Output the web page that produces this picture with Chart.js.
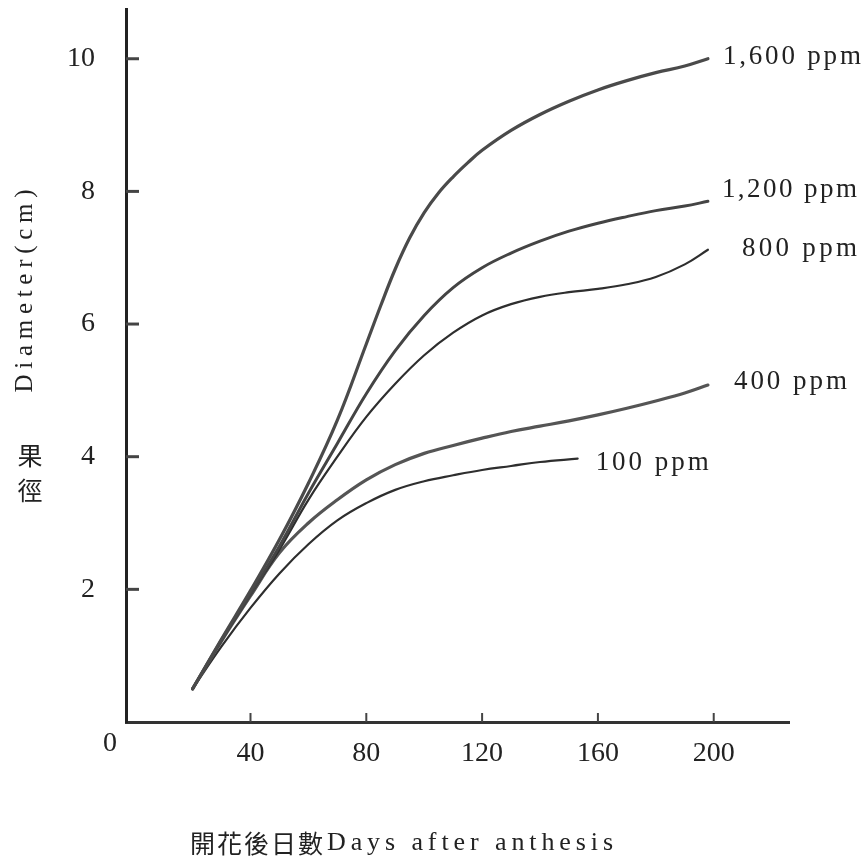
<!DOCTYPE html>
<html><head><meta charset="utf-8">
<script src="https://cdn.jsdelivr.net/npm/chart.js@4.4.0/dist/chart.umd.min.js"></script>
<style>html,body{margin:0;padding:0;background:#fff;overflow:hidden}canvas{display:block}</style>
</head><body>
<canvas id="c" width="864" height="857"></canvas>
<script>
// ---- data ----
const days1600 = [20,30,40,50,60,70,80,85,90,95,100,105,110,115,120,130,140,150,160,170,180,190,198];
const ppm1600  = [0.5,1.25,1.98,2.75,3.6,4.55,5.7,6.28,6.83,7.3,7.68,7.98,8.22,8.43,8.62,8.92,9.16,9.36,9.53,9.67,9.79,9.89,10.0];
const days = [20,30,40,50,60,70,80,90,100,110,120,130,140,150,160,170,180,190,198];
const ppm1200 = [0.5,1.24,1.93,2.65,3.45,4.2,4.95,5.6,6.13,6.55,6.85,7.07,7.25,7.4,7.52,7.62,7.71,7.78,7.85];
const ppm800  = [0.5,1.23,1.92,2.6,3.35,4.0,4.6,5.1,5.53,5.87,6.13,6.3,6.41,6.48,6.53,6.6,6.71,6.9,7.12];
const ppm400  = [0.5,1.22,1.9,2.55,3.0,3.35,3.65,3.88,4.05,4.17,4.28,4.38,4.46,4.54,4.63,4.73,4.84,4.96,5.08];
const days100 = [20,30,40,50,60,70,80,90,100,110,120,130,140,153];
const ppm100  = [0.5,1.14,1.72,2.24,2.68,3.04,3.3,3.5,3.63,3.72,3.8,3.86,3.92,3.97];
const seriesLabels = ['1,600 ppm','1,200 ppm','800 ppm','400 ppm','100 ppm'];
const xTicks = [40,80,120,160,200];
const yTicks = [2,4,6,8,10];
const yTitle = 'Diameter(cm)';
const yTitleZh = ['果','徑'];
const xTitleZh = '開花後日數';
const xTitleEn = 'Days after anthesis';

const pairs = (xs, ys) => xs.map((x, i) => ({x: x, y: ys[i]}));

const SERIF = '"Liberation Serif", "DejaVu Serif", serif';
const CJK = '"Noto Sans CJK TC", "Noto Sans CJK SC", sans-serif';

function spaced(ctx, text, x, y, width, align) {
  ctx.letterSpacing = '0px';
  const w0 = ctx.measureText(text).width;
  const n = Array.from(text).length;
  const sp = n > 1 ? (width - w0) / (n - 1) : 0;
  ctx.letterSpacing = sp + 'px';
  ctx.textAlign = 'left';
  const start = align === 'center' ? x - width / 2 : x;
  ctx.fillText(text, start, y);
  ctx.letterSpacing = '0px';
}

const labelOffsets = [[15,-2],[14,-11],[34,-1],[26,-3],[18,4]];
const labelWidths = [138,135,115,113,113];

const decor = {
  id: 'decor',
  afterDraw(chart) {
    const ctx = chart.ctx, xs = chart.scales.x, ys = chart.scales.y;
    ctx.save();
    // inward tick marks
    ctx.strokeStyle = '#444';
    ctx.lineWidth = 3;
    ys.ticks.forEach(t => {
      const py = ys.getPixelForValue(t.value);
      ctx.beginPath(); ctx.moveTo(xs.left, py); ctx.lineTo(xs.left + 13, py); ctx.stroke();
    });
    ctx.lineWidth = 2;
    xs.ticks.forEach(t => {
      const px = xs.getPixelForValue(t.value);
      ctx.beginPath(); ctx.moveTo(px, ys.bottom); ctx.lineTo(px, ys.bottom - 9); ctx.stroke();
    });
    // origin label
    ctx.fillStyle = '#222';
    ctx.font = '28px ' + SERIF;
    ctx.textAlign = 'center'; ctx.textBaseline = 'middle';
    ctx.fillText('0', xs.left - 16, ys.bottom + 22);
    // series labels at the end of each curve
    ctx.font = '27px ' + SERIF;
    chart.data.datasets.forEach((ds, i) => {
      const meta = chart.getDatasetMeta(i);
      const last = meta.data[meta.data.length - 1];
      spaced(ctx, seriesLabels[i], last.x + labelOffsets[i][0], last.y + labelOffsets[i][1], labelWidths[i], 'left');
    });
    // y title
    ctx.save();
    ctx.translate(25, 291);
    ctx.rotate(-Math.PI / 2);
    ctx.font = '25px ' + SERIF;
    ctx.textBaseline = 'middle';
    spaced(ctx, yTitle, 0, 0, 203, 'center');
    ctx.restore();
    ctx.font = '25px ' + CJK;
    ctx.textAlign = 'center'; ctx.textBaseline = 'middle';
    ctx.fillText(yTitleZh[0], 30, 455);
    ctx.fillText(yTitleZh[1], 30, 490);
    // x title
    ctx.textBaseline = 'middle';
    ctx.font = '25px ' + CJK;
    spaced(ctx, xTitleZh, 190, 843, 133, 'left');
    ctx.font = '26px ' + SERIF;
    spaced(ctx, xTitleEn, 327, 843, 286, 'left');
    ctx.restore();
  }
};

const lineStyle = [
  {c:'#4a4a4a', w:3.2},
  {c:'#444444', w:3.0},
  {c:'#2e2e2e', w:2.2},
  {c:'#555555', w:3.2},
  {c:'#2e2e2e', w:2.2}
];
const seriesData = [pairs(days1600, ppm1600), pairs(days, ppm1200), pairs(days, ppm800), pairs(days, ppm400), pairs(days100, ppm100)];

new Chart(document.getElementById('c'), {
  type: 'line',
  data: {
    datasets: seriesData.map((d, i) => ({
      label: seriesLabels[i],
      data: d,
      borderColor: lineStyle[i].c,
      borderWidth: lineStyle[i].w,
      fill: false,
      pointRadius: 0,
      tension: 0.4,
      borderCapStyle: 'round',
      borderJoinStyle: 'round'
    }))
  },
  options: {
    responsive: false,
    animation: false,
    devicePixelRatio: 1,
    layout: { padding: { top: 9, right: 75, left: 0, bottom: 0 } },
    plugins: { legend: { display: false }, tooltip: { enabled: false } },
    scales: {
      x: {
        type: 'linear', min: -3, max: 226,
        grid: { display: false },
        border: { display: true, color: '#333', width: 3 },
        afterBuildTicks: s => { s.ticks = xTicks.map(v => ({ value: v })); },
        afterFit: s => { s.height = 135; s.paddingLeft = 0; s.paddingRight = 0; },
        ticks: { padding: 7, color: '#222', font: { family: SERIF, size: 28 }, maxRotation: 0, autoSkip: false }
      },
      y: {
        type: 'linear', min: 0, max: 10.75,
        grid: { display: false },
        border: { display: true, color: '#222', width: 3 },
        afterBuildTicks: s => { s.ticks = yTicks.map(v => ({ value: v })); },
        afterFit: s => { s.width = 126; s.paddingTop = 0; s.paddingBottom = 0; },
        ticks: { padding: 23, color: '#222', font: { family: SERIF, size: 28 }, autoSkip: false }
      }
    }
  },
  plugins: [decor]
});
</script>
</body></html>
